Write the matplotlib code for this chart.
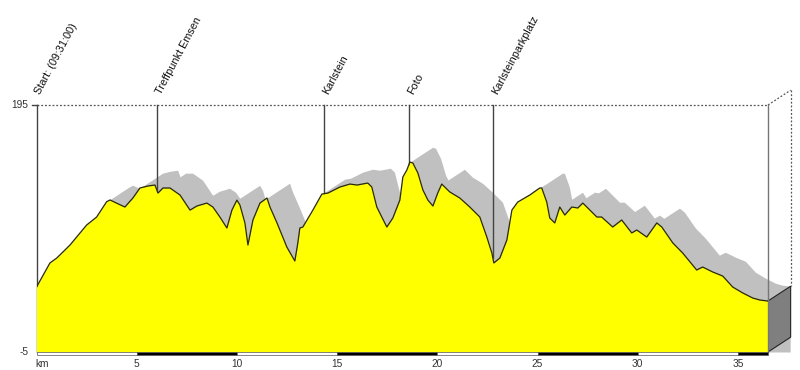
import matplotlib
matplotlib.use("Agg")
import matplotlib.pyplot as plt
import numpy as np

plt.rcParams['font.family'] = ['Liberation Sans', 'DejaVu Sans']

# elevation profile (km, m)
km = [0.00, 0.67, 1.01, 1.67, 2.50, 3.00, 3.50, 3.67, 4.00, 4.41, 4.81, 5.16, 5.56, 5.91, 6.06,
      6.31, 6.66, 7.16, 7.66, 8.00, 8.50, 8.80, 9.15, 9.50, 9.75, 10.00, 10.15, 10.40, 10.55,
      10.80, 11.15, 11.50, 11.65, 12.00, 12.49, 12.89, 13.04, 13.14, 13.29, 13.79, 14.24,
      14.54, 15.14, 15.64, 15.99, 16.53, 16.73, 16.98, 17.48, 17.78, 18.13, 18.28, 18.48,
      18.63, 18.78, 19.03, 19.28, 19.53, 19.78, 20.02, 20.22, 20.62, 21.12, 21.62, 22.12,
      22.47, 22.72, 22.82, 23.12, 23.47, 23.72, 24.01, 24.61, 25.11, 25.21, 25.46, 25.61,
      25.86, 26.11, 26.36, 26.71, 27.01, 27.26, 27.96, 28.20, 28.75, 29.20, 29.70, 29.95,
      30.45, 30.95, 31.20, 31.75, 32.24, 32.94, 33.24, 33.74, 34.24, 34.74, 35.24, 35.74,
      36.09, 36.48]
elev = [47.6, 67.1, 71.1, 81.6, 97.8, 104.3, 116.7, 118.1, 115.5, 112.4, 119.7, 127.8, 129.4, 130.2, 123.7,
        127.8, 127.8, 122.1, 109.9, 113.2, 115.6, 112.4, 104.3, 95.4, 109.9, 118.0, 114.0, 99.5, 81.6,
        101.9, 115.6, 119.7, 112.4, 99.5, 80.0, 68.7, 83.3, 95.4, 96.2, 109.9, 122.9,
        123.7, 128.6, 131.0, 130.2, 131.8, 128.6, 112.4, 96.2, 103.5, 118.0, 136.7, 142.4,
        148.8, 148.0, 139.9, 126.2, 118.0, 113.2, 123.7, 131.0, 124.6, 119.7, 112.4, 104.3,
        88.1, 75.2, 67.1, 71.1, 85.7, 109.9, 116.4, 122.1, 127.8, 127.8, 116.4, 103.5,
        99.5, 112.4, 105.9, 112.4, 111.6, 115.6, 104.3, 104.3, 96.2, 101.9, 91.4, 93.8,
        88.1, 99.5, 96.2, 83.3, 75.2, 61.4, 63.8, 59.8, 56.5, 47.6, 42.8, 38.7,
        37.1, 36.3]

waypoints = ["Start: (09:31:00)", "Treffpunkt Emsen", "Karlstein", "Foto", "Karlsteinparkplatz"]
waypoint_km = [0.0, 6.0, 14.34, 18.58, 22.77]

xticks = [5, 10, 15, 20, 25, 30, 35]
y_min, y_max = -5, 195
x_end = 36.5

km = np.array(km)
elev = np.array(elev)

fig = plt.figure(figsize=(8, 3.7), dpi=100)
ax = fig.add_axes([36.5 / 800, 18 / 370, (768 - 36.5) / 800, 247 / 370])
ax.set_xlim(0, x_end)
ax.set_ylim(y_min, y_max)
ax.axis('off')

# 3d offset (km, m)
dx, dy = 1.13, 12.0

# swept top surface (gray)
xs = np.linspace(0, x_end + dx, 3000)
env = np.full_like(xs, np.nan)
for t in np.linspace(0, 1, 300):
    sh = np.interp(xs - t * dx, km, elev, left=np.nan, right=np.nan) + t * dy
    env = np.fmax(env, sh)
ok = ~np.isnan(env)
ax.fill_between(xs[ok], y_min, env[ok], color='#c0c0c0', lw=0, clip_on=False, zorder=1)

# right end face
e_end = elev[-1]
face = plt.Polygon([(x_end, y_min), (x_end + dx, y_min + dy), (x_end + dx, e_end + dy), (x_end, e_end)],
                   closed=True, facecolor='#7f7f7f', edgecolor='#222222', lw=0.8, clip_on=False, zorder=3)
ax.add_patch(face)

# dotted frame
dot = dict(ls=(0, (1.5, 1.5)), color='#555555', lw=0.9, clip_on=False, zorder=2)
ax.plot([0, x_end], [y_max, y_max], **dot)
ax.plot([x_end, x_end + dx], [y_max, y_max + dy], **dot)
ax.plot([x_end + dx, x_end + dx], [y_max + dy, e_end + dy], **dot)

# waypoint lines and labels
for name, w in zip(waypoints, waypoint_km):
    top_e = np.interp(w, km, elev)
    ax.plot([w, w], [y_max, top_e if w > 0 else y_min], color='#444444', lw=1.0, clip_on=False, zorder=2)
    ax.annotate(name, (w, y_max), xytext=(3, 7.5), textcoords='offset points', rotation=62,
                rotation_mode='anchor', ha='left', va='baseline', fontsize=7.8, color='#111111',
                annotation_clip=False)

# profile
ax.fill_between(km, y_min, elev, color='#ffff00', lw=0, zorder=4)
ax.plot(km, elev, color='#2a2a00', lw=0.9, zorder=5)
ax.plot([x_end, x_end], [y_max, y_min], color='#777777', lw=1.0, clip_on=False, zorder=5)

# y ticks
for v in [y_max, y_min]:
    ax.annotate(str(v), (0, v), xytext=(-6, 0), textcoords='offset points', ha='right', va='center',
                fontsize=7.3, color='#333333', annotation_clip=False)
ax.plot([-0.2, 0], [y_max, y_max], color='#444444', lw=1.0, clip_on=False)

# km scale bar
starts = list(range(0, 36, 5))
for i, s in enumerate(starts):
    w = min(5, x_end - s)
    ax.bar(s, -2.8, bottom=y_min, width=w, align='edge', color='black' if i % 2 else 'white',
           edgecolor='#555555', lw=0.5, clip_on=False, zorder=6)

for t in xticks:
    ax.annotate(str(t), (t, y_min), xytext=(0, -8.5), textcoords='offset points', ha='center', va='center',
                fontsize=7.3, color='#333333', annotation_clip=False)
ax.annotate("km", (0, y_min), xytext=(-1, -8.5), textcoords='offset points', ha='left', va='center',
            fontsize=7.3, color='#333333', annotation_clip=False)

fig.savefig("out.png", dpi=100)
